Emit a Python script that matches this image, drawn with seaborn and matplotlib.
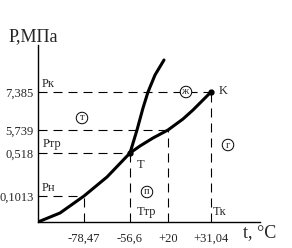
import numpy as np
import matplotlib
matplotlib.use("Agg")
import matplotlib.pyplot as plt
import seaborn as sns
import pandas as pd

sns.set_style("white")
plt.rcParams['font.family'] = ['Liberation Serif', 'DejaVu Serif']
plt.rcParams['lines.scale_dashes'] = False

# schematic phase diagram of CO2 (positions in diagram units)
x_ticks = [46, 92, 130, 173]
x_labels = ["-78,47", "-56,6", "+20", "+31,04"]
y_ticks = [26, 69, 92, 130]
y_labels = ["0,1013", "0,518", "5,739", "7,385"]

sub_x = [0, 22, 46, 69, 92]          # sublimation curve
sub_y = [0, 9, 26, 45, 69]
vap_x = [92, 102, 115, 130, 145, 155, 173]   # vaporization curve
vap_y = [69, 76, 84, 92, 103, 112, 130]
melt_x = [92, 99, 105, 110, 117, 126]        # melting curve
melt_y = [69, 92, 114, 130, 147, 162]

curves = pd.concat([
    pd.DataFrame({"x": sub_x, "y": sub_y, "c": "sub"}),
    pd.DataFrame({"x": vap_x, "y": vap_y, "c": "vap"}),
    pd.DataFrame({"x": melt_x, "y": melt_y, "c": "melt"}),
])

fig = plt.figure(figsize=(2.92, 2.48), dpi=100)
ax = fig.add_axes([38/292, 26/248, 222/292, 177/248])

# dashed guide lines from the axes to the curve points
dash = dict(color='black', lw=0.8, ls=(0, (6.5, 4.3)))
for i in range(4):
    ax.plot([0, x_ticks[i]], [y_ticks[i], y_ticks[i]], **dash)
    ax.plot([x_ticks[i], x_ticks[i]], [0, y_ticks[i]], **dash)

sns.lineplot(data=curves, x="x", y="y", units="c", estimator=None,
             sort=False, color='black', lw=2.2, ax=ax, legend=False)
ax.plot([x_ticks[1], x_ticks[3]], [y_ticks[1], y_ticks[3]], 'o',
        color='black', ms=3.5)

ax.set_xlim(0, 222)
ax.set_ylim(0, 177)
ax.set_xticks(x_ticks)
ax.set_xticklabels(x_labels)
ax.set_yticks(y_ticks)
ax.set_yticklabels(y_labels)
ax.tick_params(axis='x', length=0, pad=8, labelsize=9)
ax.tick_params(axis='y', length=0, pad=3, labelsize=9)
ax.set_xlabel("")
ax.set_ylabel("")
sns.despine(ax=ax)
for s in ['left', 'bottom']:
    ax.spines[s].set_linewidth(1.0)
    ax.spines[s].set_color('black')

fs = 9
ax.text(4, 132, "Pк", fontsize=fs, va='bottom')
ax.text(5, 72, "Pтр", fontsize=fs, va='bottom')
ax.text(4, 28, "Pн", fontsize=fs, va='bottom')
ax.text(99, 63, "T", fontsize=fs, va='top')
ax.text(181, 131, "K", fontsize=fs, va='center')
ax.text(99, 4, "Tтр", fontsize=fs, va='bottom')
ax.text(175, 4, "Tк", fontsize=fs, va='bottom')

circ = dict(boxstyle='circle,pad=0.12', fc='white', ec='black', lw=0.7)
for lbl, px, py in [("т", 44, 104), ("ж", 148, 130), ("г", 190, 77), ("п", 109, 30)]:
    ax.text(px, py, lbl, fontsize=7.5, ha='center', va='center', bbox=circ)

ax.text(222, -11, "t, °C", fontsize=13, ha='center', va='center', clip_on=False)
ax.text(-5, 185, "P,МПа", fontsize=13, ha='center', va='center', clip_on=False)

fig.savefig("out.png", dpi=100)
